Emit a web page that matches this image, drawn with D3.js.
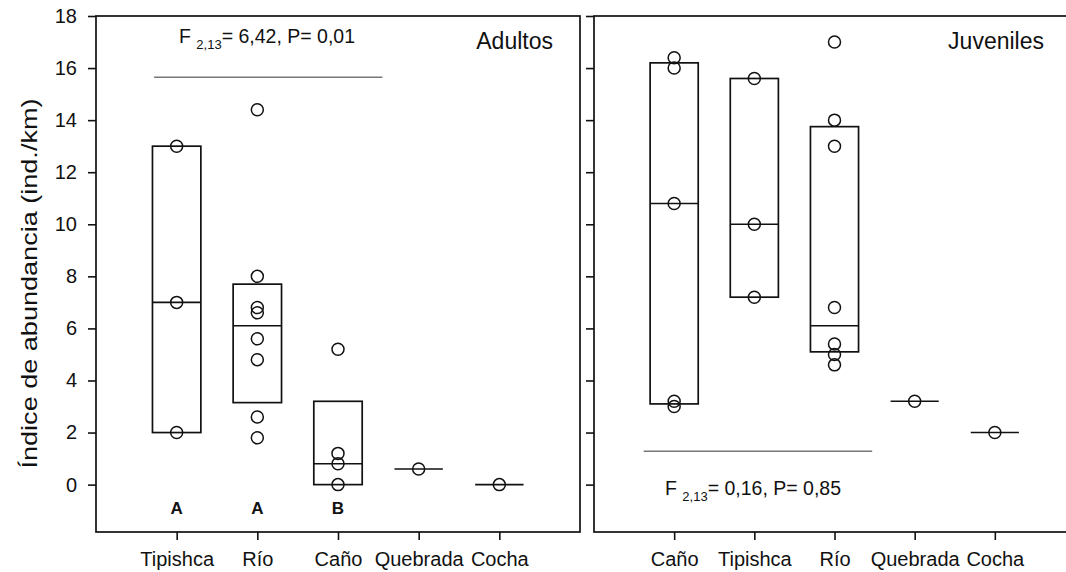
<!DOCTYPE html>
<html>
<head>
<meta charset="utf-8">
<script src="https://cdn.jsdelivr.net/npm/d3@7"></script>
<style>
  body { margin: 0; background: #fff; }
  svg { display: block; font-family: "Liberation Sans", Arial, sans-serif; }
</style>
</head>
<body>
<svg id="chart" width="1066" height="572"></svg>
<script>
// adults panel
var adultCats = ['Tipishca', 'Río', 'Caño', 'Quebrada', 'Cocha'];
var adultPoints = [
  [13, 7, 2],
  [14.4, 8.0, 6.8, 6.6, 5.6, 4.8, 2.6, 1.8],
  [5.2, 1.2, 0.8, 0],
  [0.6],
  [0]
];
var adultQ1 = [2, 3.15, 0, 0.6, 0];
var adultMedian = [7, 6.1, 0.8, 0.6, 0];
var adultQ3 = [13, 7.7, 3.2, 0.6, 0];
var adultLetters = ['A', 'A', 'B', '', ''];

// juveniles panel
var juvCats = ['Caño', 'Tipishca', 'Río', 'Quebrada', 'Cocha'];
var juvPoints = [
  [16.4, 16.0, 10.8, 3.2, 3.0],
  [15.6, 10, 7.2],
  [17.0, 14.0, 13.0, 6.8, 5.4, 5.0, 4.6],
  [3.2],
  [2.0]
];
var juvQ1 = [3.1, 7.2, 5.1, 3.2, 2.0];
var juvMedian = [10.8, 10, 6.1, 3.2, 2.0];
var juvQ3 = [16.2, 15.6, 13.75, 3.2, 2.0];

var yTicks = [0, 2, 4, 6, 8, 10, 12, 14, 16, 18];

var svg = d3.select('#chart');
var plotTop = 16, plotBottom = 532;
var y = d3.scaleLinear().domain([-1.82, 18]).range([plotBottom, plotTop]);
var boxHalf = 0.3;

// draws one panel: frame, axes, boxes, points
function drawPanel(left, right, cats, points, q1, med, q3, showLabels) {
  var x = d3.scaleLinear().domain([0, 6]).range([left, right]);
  var g = svg.append('g');

  var yAxis = d3.axisLeft(y).tickValues(yTicks).tickSize(8).tickPadding(11)
    .tickFormat(showLabels ? d3.format('d') : '');
  var gy = g.append('g').attr('transform', 'translate(' + left + ',0)').call(yAxis);

  var xAxis = d3.axisBottom(x).tickValues(d3.range(1, cats.length + 1)).tickSize(8).tickPadding(12)
    .tickFormat(function(d) { return cats[d - 1]; });
  var gx = g.append('g').attr('transform', 'translate(0,' + plotBottom + ')').call(xAxis);

  [gy, gx].forEach(function(a) {
    a.select('.domain').remove();
    a.selectAll('line').attr('stroke', '#111').attr('stroke-width', 1.6);
    a.selectAll('text').attr('font-size', 20).attr('fill', '#111')
      .attr('font-family', '"Liberation Sans", Arial, sans-serif');
  });

  g.append('rect')
    .attr('x', left).attr('y', plotTop)
    .attr('width', right - left).attr('height', plotBottom - plotTop)
    .attr('fill', 'none').attr('stroke', '#111').attr('stroke-width', 1.7);

  cats.forEach(function(c, i) {
    var cx = x(i + 1);
    if (q3[i] > q1[i]) {
      g.append('rect')
        .attr('x', x(i + 1 - boxHalf)).attr('y', y(q3[i]))
        .attr('width', x(i + 1 + boxHalf) - x(i + 1 - boxHalf))
        .attr('height', y(q1[i]) - y(q3[i]))
        .attr('fill', 'none').attr('stroke', '#111').attr('stroke-width', 1.7);
    }
    g.append('line')
      .attr('x1', x(i + 1 - boxHalf)).attr('x2', x(i + 1 + boxHalf))
      .attr('y1', y(med[i])).attr('y2', y(med[i]))
      .attr('stroke', '#111').attr('stroke-width', 1.6);

    g.selectAll(null).data(points[i]).enter().append('circle')
      .attr('cx', cx).attr('cy', function(d) { return y(d); })
      .attr('r', 6)
      .attr('fill', 'none').attr('stroke', '#111').attr('stroke-width', 1.5);
  });
  return x;
}

// F statistic text with subscript
function statText(xPos, yPos, rest) {
  var t = svg.append('text').attr('x', xPos).attr('y', yPos)
    .attr('font-size', 19.5).attr('fill', '#111');
  t.append('tspan').text('F ');
  t.append('tspan').attr('font-size', 13).attr('dy', 6).text('2,13');
  t.append('tspan').attr('dy', -6).text(rest);
}

var xA = drawPanel(96, 580, adultCats, adultPoints, adultQ1, adultMedian, adultQ3, true);
var xJ = drawPanel(594, 1075, juvCats, juvPoints, juvQ1, juvMedian, juvQ3, false);

// significance letters under the adult boxes
svg.selectAll('.letter').data(adultLetters).enter().append('text')
  .attr('class', 'letter')
  .attr('x', function(d, i) { return xA(i + 1); })
  .attr('y', 514)
  .attr('text-anchor', 'middle')
  .attr('font-size', 17).attr('font-weight', 'bold').attr('fill', '#111')
  .text(function(d) { return d; });

// grey lines spanning the groups compared
svg.append('line')
  .attr('x1', xA(0.72)).attr('x2', xA(3.55))
  .attr('y1', y(15.65)).attr('y2', y(15.65))
  .attr('stroke', '#777').attr('stroke-width', 1.6);
svg.append('line')
  .attr('x1', xJ(0.62)).attr('x2', xJ(3.47))
  .attr('y1', y(1.28)).attr('y2', y(1.28))
  .attr('stroke', '#777').attr('stroke-width', 1.6);

statText(179, 42.7, '= 6,42, P= 0,01');
statText(665, 495, '= 0,16, P= 0,85');

svg.append('text').attr('x', 553).attr('y', 48.5).attr('text-anchor', 'end')
  .attr('font-size', 23).attr('fill', '#111').text('Adultos');
svg.append('text').attr('x', 1044).attr('y', 48.5).attr('text-anchor', 'end')
  .attr('font-size', 23).attr('fill', '#111').text('Juveniles');

// y axis title
svg.append('text')
  .attr('transform', 'translate(37,283.5) rotate(-90)')
  .attr('text-anchor', 'middle')
  .attr('font-size', 22).attr('fill', '#111')
  .attr('textLength', 370).attr('lengthAdjust', 'spacingAndGlyphs')
  .text('Índice de abundancia (ind./km)');
</script>
</body>
</html>
